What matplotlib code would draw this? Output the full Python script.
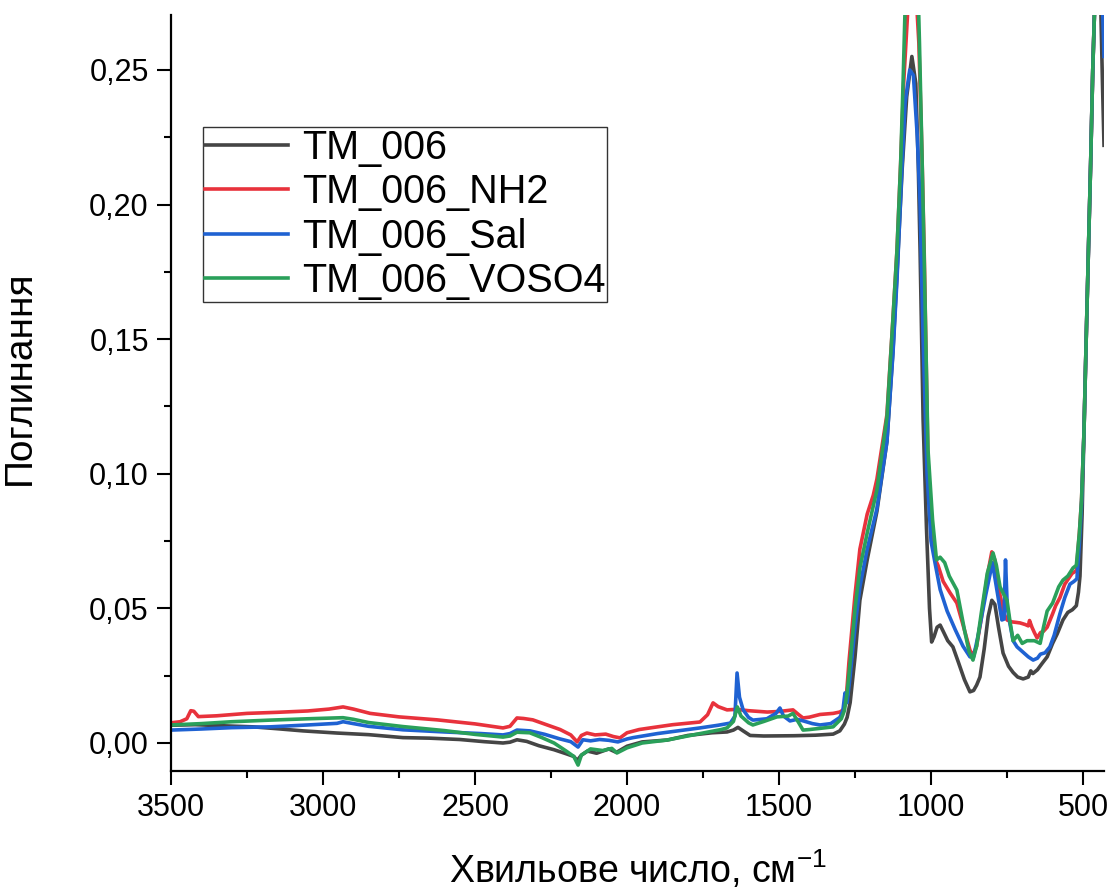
import matplotlib
matplotlib.use("Agg")
import matplotlib.pyplot as plt
from matplotlib.ticker import MultipleLocator, FuncFormatter

plt.rcParams['font.family'] = ['Liberation Sans', 'DejaVu Sans']
plt.rcParams['mathtext.fontset'] = 'custom'
plt.rcParams['mathtext.rm'] = 'Liberation Sans'
plt.rcParams['mathtext.it'] = 'Liberation Sans:italic'

# ---------------- data ----------------
labels = ["TM_006", "TM_006_NH2", "TM_006_Sal", "TM_006_VOSO4"]

wn_tm006 = [3500, 3420, 3330, 3230, 3150, 3066, 2954, 2850, 2737, 2650, 2550, 2470, 2408, 2385, 2362, 2330,
            2290, 2240, 2200, 2175, 2164, 2150, 2130, 2100, 2060, 2035, 2000, 1950, 1868, 1800, 1720, 1671,
            1650, 1635, 1618, 1595, 1550, 1450, 1380, 1322, 1300, 1285, 1276, 1266, 1250, 1234, 1210, 1178,
            1145, 1125, 1112, 1095, 1080, 1063, 1050, 1042, 1036, 1026, 1015, 1005, 998, 990, 980, 970, 960,
            945, 928, 910, 890, 872, 860, 850, 839, 825, 812, 800, 790, 778, 763, 745, 730, 715, 697, 680,
            672, 665, 650, 635, 618, 600, 585, 566, 550, 535, 522, 515, 510, 503, 497, 490, 482, 475, 468,
            460, 450, 441, 436, 431]
a_tm006 = [0.0066, 0.0068, 0.0064, 0.0060, 0.0053, 0.0045, 0.0037, 0.0031, 0.0020, 0.0018, 0.0013, 0.0005,
           0.0000, 0.0003, 0.0012, 0.0006, -0.0010, -0.0025, -0.0040, -0.0050, -0.0065, -0.0045, -0.0030,
           -0.0038, -0.0022, -0.0035, -0.0012, 0.0004, 0.0011, 0.0028, 0.0038, 0.0041, 0.0048, 0.0058,
           0.0045, 0.0028, 0.0026, 0.0027, 0.0029, 0.0033, 0.0045, 0.0070, 0.0095, 0.0150, 0.0320, 0.0530,
           0.0680, 0.0860, 0.1120, 0.1460, 0.1740, 0.2130, 0.2400, 0.2550, 0.2450, 0.2150, 0.1830, 0.1200,
           0.0800, 0.0500, 0.0375, 0.0395, 0.0430, 0.0438, 0.0415, 0.0380, 0.0357, 0.0300, 0.0235, 0.0190,
           0.0195, 0.0215, 0.0245, 0.0350, 0.0470, 0.0530, 0.0515, 0.0430, 0.0334, 0.0285, 0.0262, 0.0245,
           0.0238, 0.0245, 0.0268, 0.0258, 0.0272, 0.0295, 0.0320, 0.0370, 0.0405, 0.0457, 0.0485, 0.0495,
           0.0510, 0.0560, 0.0620, 0.0850, 0.1150, 0.1480, 0.1840, 0.2150, 0.2500, 0.2800, 0.3000, 0.2700,
           0.2450, 0.2220]

wn_nh2 = [3500, 3470, 3448, 3435, 3425, 3410, 3350, 3250, 3150, 3050, 2980, 2934, 2900, 2845, 2750, 2625,
          2500, 2408, 2385, 2362, 2340, 2310, 2270, 2220, 2185, 2164, 2150, 2132, 2105, 2070, 2045, 2023,
          2000, 1960, 1924, 1850, 1760, 1735, 1717, 1700, 1671, 1640, 1600, 1539, 1500, 1454, 1435, 1421,
          1400, 1365, 1322, 1300, 1289, 1280, 1270, 1250, 1234, 1210, 1190, 1178, 1145, 1125, 1112, 1100,
          1090, 1075, 1062, 1050, 1040, 1030, 1022, 1010, 995, 985, 977, 960, 937, 915, 895, 872, 862, 850,
          835, 815, 800, 790, 775, 760, 750, 735, 720, 707, 690, 680, 676, 668, 660, 651, 640, 630, 618, 600,
          590, 576, 560, 548, 536, 522, 512, 505, 497, 490, 482, 475, 468, 460, 450, 440, 431]
a_nh2 = [0.0075, 0.0079, 0.0090, 0.0120, 0.0118, 0.0098, 0.0101, 0.0110, 0.0114, 0.0119, 0.0126, 0.0134,
         0.0126, 0.0110, 0.0097, 0.0086, 0.0071, 0.0056, 0.0062, 0.0093, 0.0091, 0.0086, 0.0070, 0.0050,
         0.0030, 0.0004, 0.0028, 0.0037, 0.0030, 0.0033, 0.0024, 0.0019, 0.0038, 0.0050, 0.0056, 0.0068,
         0.0078, 0.0105, 0.0149, 0.0135, 0.0123, 0.0125, 0.0120, 0.0115, 0.0117, 0.0123, 0.0105, 0.0093,
         0.0096, 0.0106, 0.0110, 0.0115, 0.0123, 0.0150, 0.0300, 0.0550, 0.0720, 0.0850, 0.0920, 0.0980,
         0.1220, 0.1580, 0.1830, 0.2150, 0.2450, 0.2750, 0.2850, 0.2800, 0.2600, 0.2200, 0.1800, 0.1050,
         0.0760, 0.0680, 0.0660, 0.0600, 0.0557, 0.0520, 0.0440, 0.0345, 0.0325, 0.0360, 0.0460, 0.0620,
         0.0710, 0.0680, 0.0560, 0.0480, 0.0457, 0.0450, 0.0448, 0.0446, 0.0440, 0.0435, 0.0455, 0.0430,
         0.0410, 0.0390, 0.0410, 0.0415, 0.0430, 0.0480, 0.0510, 0.0540, 0.0590, 0.0610, 0.0630, 0.0640,
         0.0780, 0.0900, 0.1150, 0.1480, 0.1840, 0.2150, 0.2500, 0.2800, 0.3100, 0.3200, 0.3200]

wn_sal = [3500, 3400, 3300, 3174, 3050, 2954, 2934, 2900, 2850, 2737, 2600, 2480, 2408, 2385, 2362, 2319,
          2270, 2220, 2185, 2161, 2145, 2120, 2090, 2060, 2030, 2000, 1980, 1900, 1800, 1760, 1700, 1660,
          1645, 1638, 1630, 1618, 1600, 1586, 1540, 1510, 1497, 1485, 1464, 1440, 1420, 1390, 1365, 1330,
          1300, 1290, 1283, 1276, 1266, 1250, 1234, 1210, 1178, 1145, 1125, 1112, 1095, 1085, 1070, 1058,
          1045, 1036, 1026, 1013, 1000, 987, 970, 947, 920, 895, 872, 860, 845, 820, 798, 785, 767, 760,
          755, 749, 740, 730, 717, 700, 680, 664, 650, 640, 625, 609, 595, 576, 560, 543, 530, 520, 512,
          505, 497, 490, 482, 475, 468, 460, 450, 440, 435, 431]
a_sal = [0.0048, 0.0052, 0.0057, 0.0060, 0.0067, 0.0073, 0.0079, 0.0072, 0.0062, 0.0049, 0.0041, 0.0035,
         0.0030, 0.0035, 0.0048, 0.0045, 0.0032, 0.0015, 0.0005, -0.0015, 0.0012, 0.0008, 0.0013, 0.0010,
         0.0004, 0.0015, 0.0020, 0.0035, 0.0050, 0.0056, 0.0066, 0.0074, 0.0100, 0.0260, 0.0170, 0.0123,
         0.0095, 0.0085, 0.0090, 0.0110, 0.0130, 0.0100, 0.0082, 0.0088, 0.0082, 0.0072, 0.0067, 0.0072,
         0.0095, 0.0120, 0.0186, 0.0150, 0.0250, 0.0430, 0.0580, 0.0720, 0.0870, 0.1120, 0.1450, 0.1720,
         0.2150, 0.2380, 0.2500, 0.2480, 0.2250, 0.2000, 0.1500, 0.1000, 0.0750, 0.0670, 0.0570, 0.0490,
         0.0420, 0.0360, 0.0320, 0.0320, 0.0400, 0.0550, 0.0670, 0.0580, 0.0457, 0.0460, 0.0680, 0.0500,
         0.0440, 0.0380, 0.0357, 0.0340, 0.0320, 0.0308, 0.0315, 0.0330, 0.0335, 0.0357, 0.0400, 0.0480,
         0.0540, 0.0590, 0.0600, 0.0610, 0.0740, 0.0880, 0.1150, 0.1480, 0.1840, 0.2150, 0.2500, 0.2800,
         0.3000, 0.2900, 0.2700, 0.2550]

wn_voso4 = [3500, 3400, 3300, 3174, 3050, 2934, 2900, 2850, 2737, 2600, 2500, 2408, 2385, 2362, 2320, 2280,
            2240, 2200, 2175, 2161, 2150, 2120, 2080, 2050, 2033, 2000, 1950, 1868, 1760, 1690, 1671, 1650,
            1637, 1625, 1600, 1586, 1550, 1507, 1470, 1454, 1435, 1421, 1400, 1360, 1322, 1295, 1285, 1276,
            1266, 1250, 1234, 1210, 1178, 1145, 1125, 1112, 1100, 1092, 1086, 1075, 1060, 1045, 1038, 1030,
            1023, 1010, 995, 982, 970, 955, 940, 915, 890, 875, 862, 850, 835, 815, 796, 785, 773, 760, 750,
            740, 730, 715, 700, 684, 660, 641, 630, 618, 600, 580, 566, 550, 533, 522, 512, 505, 497, 490,
            482, 475, 468, 460, 450, 440, 431]
a_voso4 = [0.0067, 0.0072, 0.0079, 0.0085, 0.0090, 0.0094, 0.0088, 0.0076, 0.0061, 0.0046, 0.0032, 0.0022,
           0.0026, 0.0040, 0.0038, 0.0020, 0.0000, -0.0030, -0.0050, -0.0082, -0.0045, -0.0022, -0.0028,
           -0.0020, -0.0037, -0.0018, 0.0000, 0.0011, 0.0035, 0.0050, 0.0056, 0.0080, 0.0134, 0.0100,
           0.0075, 0.0067, 0.0080, 0.0097, 0.0100, 0.0110, 0.0075, 0.0048, 0.0050, 0.0055, 0.0060, 0.0090,
           0.0120, 0.0186, 0.0300, 0.0500, 0.0650, 0.0780, 0.0940, 0.1210, 0.1580, 0.1830, 0.2150, 0.2450,
           0.2700, 0.3000, 0.3100, 0.2900, 0.2600, 0.2200, 0.1830, 0.1090, 0.0830, 0.0680, 0.0690, 0.0670,
           0.0620, 0.0568, 0.0420, 0.0340, 0.0308, 0.0360, 0.0480, 0.0630, 0.0706, 0.0660, 0.0580, 0.0550,
           0.0530, 0.0450, 0.0380, 0.0400, 0.0370, 0.0380, 0.0380, 0.0370, 0.0430, 0.0490, 0.0520, 0.0580,
           0.0605, 0.0620, 0.0650, 0.0660, 0.0780, 0.0900, 0.1150, 0.1480, 0.1840, 0.2150, 0.2500, 0.2800,
           0.3100, 0.3200, 0.3200]

x_ticks = [3500, 3000, 2500, 2000, 1500, 1000, 500]
y_ticks = [0.00, 0.05, 0.10, 0.15, 0.20, 0.25]

colors = ['#454545', '#e8323c', '#1f62d2', '#2aa05a']
series = [(wn_tm006, a_tm006), (wn_nh2, a_nh2), (wn_sal, a_sal), (wn_voso4, a_voso4)]

# ---------------- figure ----------------
fig = plt.figure(figsize=(11.14, 8.91), dpi=100)
ax = fig.add_axes([171 / 1114, 1 - 771 / 891, 933 / 1114, 756 / 891])

for (wn, a), c, lab in zip(series, colors, labels):
    ax.plot(wn, a, color=c, lw=2.6, label=lab, solid_joinstyle='round')

ax.set_xlim(3500, 431)
ax.set_ylim(-0.0104, 0.2704)
ax.set_xticks(x_ticks)
ax.set_yticks(y_ticks)
ax.xaxis.set_minor_locator(MultipleLocator(250))
ax.yaxis.set_minor_locator(MultipleLocator(0.025))
ax.yaxis.set_major_formatter(FuncFormatter(lambda v, p: f"{v:.2f}".replace('.', ',')))

for s in ['top', 'right']:
    ax.spines[s].set_visible(False)
for s in ['left', 'bottom']:
    ax.spines[s].set_linewidth(1.6)

ax.tick_params(which='major', direction='out', length=10, width=1.5, labelsize=22, pad=6)
ax.tick_params(which='minor', direction='out', length=5, width=1.5)

ax.set_ylabel("Поглинання", fontsize=28)
ax.yaxis.set_label_coords(-0.143, 0.52)
ax.set_xlabel("Хвильове число, см$^{-1}$", fontsize=27)
ax.xaxis.set_label_coords(0.5, -0.103)

leg = ax.legend(loc='upper left', bbox_to_anchor=(0.034, 0.852), borderaxespad=0,
                fontsize=28.5, frameon=True, fancybox=False, edgecolor='black',
                handlelength=2.1, handletextpad=0.35, labelspacing=0.16, borderpad=0.05)
leg.get_frame().set_linewidth(1.0)
for ln in leg.get_lines():
    ln.set_linewidth(2.6)

fig.savefig("out.png", dpi=100)
